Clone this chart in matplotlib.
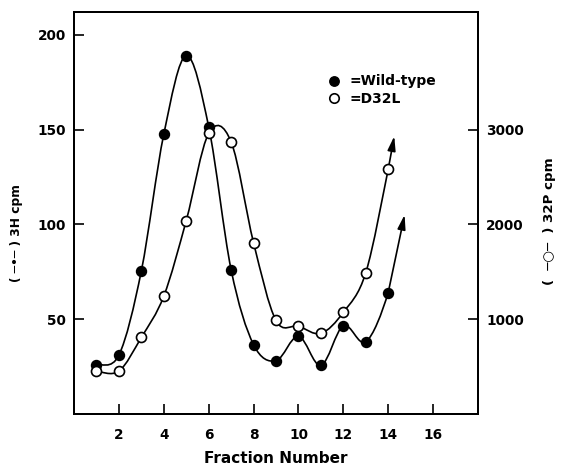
import numpy as np
import matplotlib
matplotlib.use('Agg')
import matplotlib.pyplot as plt
from matplotlib.path import Path
from matplotlib.patches import PathPatch
from matplotlib.lines import Line2D

# fraction numbers
fractions = [1, 2, 3, 4, 5, 6, 7, 8, 9, 10, 11, 12, 13, 14]
# 3H cpm, wild-type (left axis)
wild_type = [26, 31, 75.5, 147.6, 189, 151.5, 76, 36.5, 28, 41, 25.5, 46.5, 38, 64]
# 32P cpm, D32L (right axis)
d32l = [451, 451, 807, 1243, 2040, 2960, 2870, 1805, 985, 925, 849, 1071, 1489, 2582]
# where the hand-drawn arrows end
wt_arrow = (14.73, 105)
d32l_arrow = (14.27, 2930)

plt.rc('font', family=['DejaVu Sans'], size=9.6, weight='bold')


def smooth_path(xs, ys, tip):
    # Catmull-Rom through the points, drawn as cubic bezier segments
    px = list(xs) + [tip[0]]
    py = list(ys) + [tip[1]]
    pts = np.column_stack([px, py]).astype(float)
    pts = np.vstack([pts[0], pts, pts[-1]])
    verts = [pts[1]]
    codes = [Path.MOVETO]
    for i in range(1, len(pts) - 3):
        p0, p1, p2, p3 = pts[i - 1], pts[i], pts[i + 1], pts[i + 2]
        verts += [p1 + (p2 - p0) / 6, p2 - (p3 - p1) / 6, p2]
        codes += [Path.CURVE4] * 3
    return Path(verts, codes)


fig = plt.figure(figsize=(5.61, 4.66), dpi=100)
ax = fig.add_axes([0.132, 0.112, 0.720, 0.862])
ax2 = ax.twinx()

ax.set_xlim(0, 18)
ax.set_ylim(0, 212)
ax2.set_ylim(0, 212 * 20)

ax.set_xticks([2, 4, 6, 8, 10, 12, 14, 16])
ax.set_yticks([50, 100, 150, 200])
ax2.set_yticks([1000, 2000, 3000])
for a in (ax, ax2):
    a.tick_params(direction='in', length=7, width=1.2, labelsize=9.8)
    for s in a.spines.values():
        s.set_linewidth(1.4)
ax.tick_params(axis='x', pad=10)
ax.tick_params(axis='y', pad=6)
ax2.tick_params(axis='y', pad=6)

# curves
arrow_style = dict(arrowstyle='-|>,head_length=0.9,head_width=0.25', color='black', lw=1.2,
                   shrinkA=0, shrinkB=0)
ax.add_patch(PathPatch(smooth_path(fractions, wild_type, wt_arrow), fill=False, lw=1.2, color='black'))
ax2.add_patch(PathPatch(smooth_path(fractions, d32l, d32l_arrow), fill=False, lw=1.2, color='black'))
ax.annotate('', xy=wt_arrow, xytext=(fractions[-1], wild_type[-1]), arrowprops=arrow_style)
ax2.annotate('', xy=d32l_arrow, xytext=(fractions[-1], d32l[-1]), arrowprops=arrow_style)

ax.plot(fractions, wild_type, 'o', ms=7.2, mfc='black', mec='black', zorder=5)
ax2.plot(fractions, d32l, 'o', ms=7.2, mfc='white', mec='black', mew=1.2, zorder=5)

ax.set_xlabel('Fraction Number', fontsize=11, fontweight='bold', labelpad=7)

handles = [Line2D([], [], ls='none', marker='o', ms=6.8, mfc='black', mec='black'),
           Line2D([], [], ls='none', marker='o', ms=6.8, mfc='white', mec='black', mew=1.2)]
ax.legend(handles, ['=Wild-type', '=D32L'], loc='center left', bbox_to_anchor=(0.626, 0.806),
          frameon=False, handlelength=1.0, handletextpad=0.6, labelspacing=0.23,
          borderpad=0, borderaxespad=0, prop={'weight': 'bold', 'size': 10})

fig.text(0.029, 0.5, '( ─•─ ) 3H cpm', rotation=90, ha='center', va='center', fontsize=8.8)
fig.text(0.980, 0.526, '(  ─○─  ) 32P cpm', rotation=90, ha='center', va='center', fontsize=9.6)

fig.savefig('out.png', dpi=100)
